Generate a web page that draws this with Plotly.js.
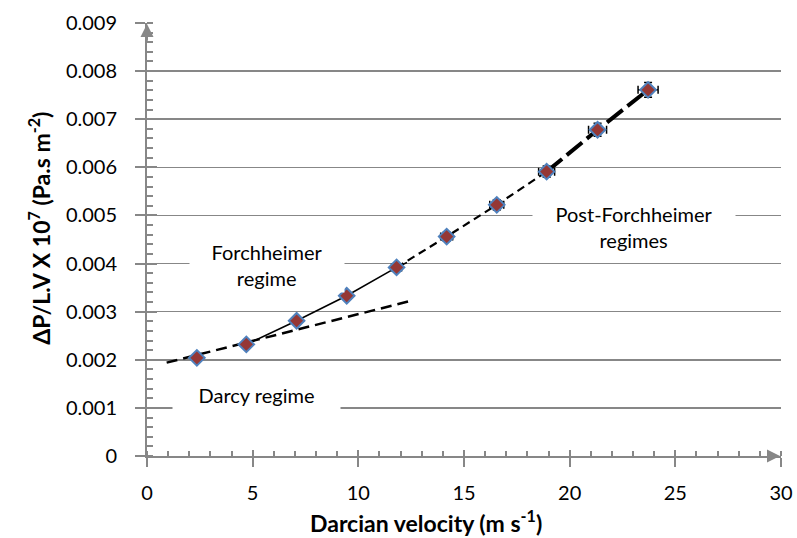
<!DOCTYPE html>
<html>
<head>
<meta charset="utf-8">
<script src="https://cdn.plot.ly/plotly-3.0.1.min.js"></script>
<style>html,body{margin:0;padding:0;background:#fff;} #chart{width:797px;height:538px;}</style>
</head>
<body>
<div id="chart"></div>
<script>
// Measured data
var velocity = [2.36, 4.70, 7.08, 9.45, 11.81, 14.18, 16.55, 18.91, 21.32, 23.71];
var pressure = [0.00204, 0.00232, 0.00281, 0.00333, 0.00392, 0.00456, 0.00522, 0.00591, 0.00678, 0.00761];
var errPercent = 2;

// Trend lines
var darcyX = [0.93, 12.44];
var darcyY = [0.00194, 0.00322];
var forchX = [4.70, 7.08, 9.45, 11.81, 12.3];
var forchY = [0.00232, 0.00281, 0.00333, 0.00392, 0.00402];
var postX = [11.81, 14.18, 16.55, 18.91];
var postY = [0.00392, 0.00456, 0.00522, 0.00591];
var post2X = [18.91, 21.32, 23.71];
var post2Y = [0.00591, 0.00678, 0.00761];

// Ticks
var xTickVals = [0, 5, 10, 15, 20, 25, 30];
var xTickText = ['0', '5', '10', '15', '20', '25', '30'];
var yTickVals = [0, 0.001, 0.002, 0.003, 0.004, 0.005, 0.006, 0.007, 0.008, 0.009];
var yTickText = ['0', '0.001', '0.002', '0.003', '0.004', '0.005', '0.006', '0.007', '0.008', '0.009'];

var FONT = 'Lato, "Open Sans", sans-serif';
var GRAY = '#878787';

var traces = [
  {x: darcyX, y: darcyY, mode: 'lines', line: {color: '#000', width: 2.5, dash: '11px,6px'}, hoverinfo: 'skip', showlegend: false},
  {x: forchX, y: forchY, mode: 'lines', line: {color: '#000', width: 1.6}, hoverinfo: 'skip', showlegend: false},
  {x: postX, y: postY, mode: 'lines', line: {color: '#000', width: 2.2, dash: '8px,5px'}, hoverinfo: 'skip', showlegend: false},
  {x: post2X, y: post2Y, mode: 'lines', line: {color: '#000', width: 4, dash: '20px,6px'}, hoverinfo: 'skip', showlegend: false},
  {x: velocity, y: pressure, mode: 'markers', showlegend: false,
   marker: {symbol: 'diamond', size: 12, color: '#953735', line: {color: '#4F81BD', width: 2}},
   error_y: {type: 'percent', value: errPercent, color: '#000', thickness: 1.5, width: 4},
   error_x: {type: 'percent', value: errPercent, color: '#000', thickness: 1.5, width: 4}},
  {x: [0], y: [0], xaxis: 'x2', yaxis: 'y2', mode: 'markers', marker: {opacity: 0}, hoverinfo: 'skip', showlegend: false}
];

var layout = {
  width: 797, height: 538,
  margin: {l: 147, r: 15.5, t: 23, b: 82},
  paper_bgcolor: '#fff', plot_bgcolor: '#fff',
  font: {family: FONT, color: '#000', size: 20},
  xaxis: {
    range: [0, 30], tickvals: xTickVals, ticktext: xTickText,
    ticks: 'outside', ticklen: 9, tickwidth: 2, tickcolor: GRAY,
    showline: true, linecolor: GRAY, linewidth: 2,
    showgrid: false, zeroline: false, ticklabelstandoff: 9,
    minor: {dtick: 1, ticks: 'inside', ticklen: 5, tickwidth: 2, tickcolor: GRAY, showgrid: false},
    tickfont: {family: FONT, size: 20, color: '#000'}, fixedrange: true
  },
  yaxis: {
    range: [0, 0.009], tickvals: yTickVals, ticktext: yTickText,
    ticks: 'outside', ticklen: 10, tickwidth: 2, tickcolor: GRAY,
    showline: true, linecolor: GRAY, linewidth: 2,
    showgrid: true, gridcolor: GRAY, gridwidth: 1.6, zeroline: false, ticklabelstandoff: 14,
    minor: {dtick: 0.0002, ticks: 'inside', ticklen: 6, tickwidth: 2, tickcolor: GRAY, showgrid: false},
    tickfont: {family: FONT, size: 20, color: '#000'}, fixedrange: true
  },
  xaxis2: {overlaying: 'x', anchor: 'y', side: 'bottom', range: [0, 30], tickvals: xTickVals,
    ticks: 'inside', ticklen: 6, tickwidth: 2, tickcolor: GRAY, showticklabels: false,
    showgrid: false, showline: false, zeroline: false, fixedrange: true},
  yaxis2: {overlaying: 'y', anchor: 'x', side: 'left', range: [0, 0.009], tickvals: yTickVals,
    ticks: 'inside', ticklen: 10, tickwidth: 2, tickcolor: GRAY, showticklabels: false,
    showgrid: false, showline: false, zeroline: false, fixedrange: true},
  annotations: [
    {x: 5.68, y: 0.00398, xref: 'x', yref: 'y', text: 'Forchheimer<br>regime', showarrow: false,
     bgcolor: '#fff', width: 152, height: 52, font: {family: FONT, size: 20, color: '#000'}},
    {x: 5.18, y: 0.00127, xref: 'x', yref: 'y', text: 'Darcy regime', showarrow: false,
     bgcolor: '#fff', width: 165, height: 27, font: {family: FONT, size: 20, color: '#000'}},
    {x: 23.04, y: 0.00476, xref: 'x', yref: 'y', text: 'Post-Forchheimer<br>regimes', showarrow: false,
     bgcolor: '#fff', width: 200, height: 52, font: {family: FONT, size: 20, color: '#000'}},
    {x: 0.44, y: 0, xref: 'paper', yref: 'paper', xanchor: 'center', yanchor: 'middle', yshift: -65, borderpad: 0,
     text: '<b>Darcian velocity (m s<sup>-1</sup>)</b>', showarrow: false, font: {family: FONT, size: 23, color: '#000'}},
    {x: 0, y: 0.525, xref: 'paper', yref: 'paper', xanchor: 'center', yanchor: 'middle', xshift: -107, textangle: -90, borderpad: 0,
     text: '<b>ΔP/L.V X 10<sup>7</sup> (Pa.s m<sup>-2</sup>)</b>', showarrow: false, font: {family: FONT, size: 23, color: '#000'}},
    {x: 30, y: 0, ax: 29.3, ay: 0, xref: 'x', yref: 'y', axref: 'x', ayref: 'y', text: '', showarrow: true,
     arrowhead: 2, arrowsize: 1.3, arrowwidth: 2, arrowcolor: GRAY, standoff: 1},
    {x: 0, y: 0.009, ax: 0, ay: 0.0086, xref: 'x', yref: 'y', axref: 'x', ayref: 'y', text: '', showarrow: true,
     arrowhead: 2, arrowsize: 1.3, arrowwidth: 2, arrowcolor: GRAY, standoff: 1}
  ]
};

Plotly.newPlot('chart', traces, layout, {displayModeBar: false, staticPlot: true});
</script>
</body>
</html>
